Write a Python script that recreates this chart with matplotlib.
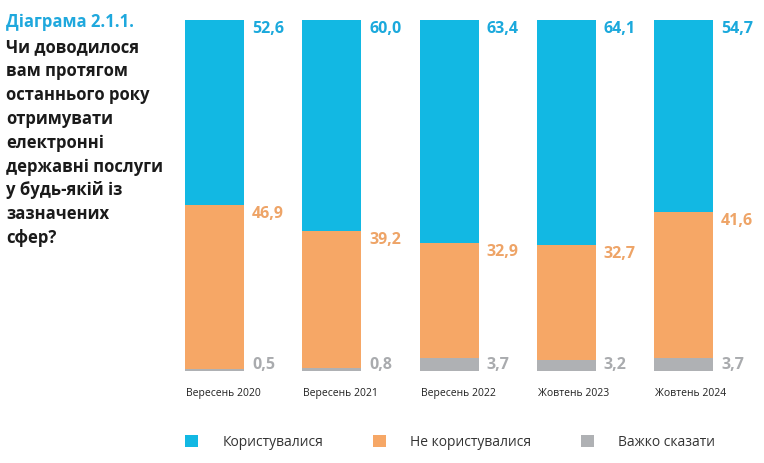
import matplotlib
matplotlib.use("Agg")
import matplotlib.pyplot as plt
import numpy as np

categories = ["Вересень 2020", "Вересень 2021", "Вересень 2022", "Жовтень 2023", "Жовтень 2024"]
used = [52.6, 60.0, 63.4, 64.1, 54.7]
not_used = [46.9, 39.2, 32.9, 32.7, 41.6]
hard = [0.5, 0.8, 3.7, 3.2, 3.7]
series_names = ["Користувалися", "Не користувалися", "Важко сказати"]
title_num = "Діаграма 2.1.1."
title_lines = ["Чи доводилося", "вам протягом", "останнього року", "отримувати",
               "електронні", "державні послуги", "у будь-якій із", "зазначених", "сфер?"]

BLUE = "#12b8e3"
ORANGE = "#f6a766"
GRAY = "#afb1b4"
BLUE_T = "#1ba9dc"
ORANGE_T = "#eea467"
GRAY_T = "#a9abae"

plt.rcParams['font.family'] = ['Open Sans', 'DejaVu Sans']

W, H = 764, 463
fig = plt.figure(figsize=(W / 100, H / 100), dpi=100)
ax = fig.add_axes([0, 0, 1, 1])
ax.axis('off')

step = 117.3
x0 = 214.5
ax.set_xlim(-x0 / step, (W - x0) / step)
ppu = (371 - 20) / 100.0
ax.set_ylim(-(H - 371) / ppu, 100 + 20 / ppu)

x = np.arange(len(categories))
w = 59 / step
hard_a = np.array(hard)
not_a = np.array(not_used)
used_a = np.array(used)
b1 = ax.bar(x, hard_a, w, color=GRAY, label=series_names[2])
b2 = ax.bar(x, not_a, w, bottom=hard_a, color=ORANGE, label=series_names[1])
b3 = ax.bar(x, used_a, w, bottom=hard_a + not_a, color=BLUE, label=series_names[0])

fmt = lambda v: f"{v:.1f}".replace(".", ",")
dx = 8 / step
for i in range(len(categories)):
    xr = x[i] + w / 2 + dx
    ax.text(xr, 100 - 0.4, fmt(used_a[i]), color=BLUE_T, fontsize=11.5, fontweight='bold',
            ha='left', va='top')
    ax.text(xr, hard_a[i] + not_a[i] - 0.4, fmt(not_a[i]), color=ORANGE_T, fontsize=11.5,
            fontweight='bold', ha='left', va='top')
    ax.text(xr, -0.6, fmt(hard_a[i]), color=GRAY_T, fontsize=11.5, fontweight='bold',
            ha='left', va='bottom')
    ax.text(x[i] - w / 2 + 1 / step, -6.3, categories[i], color="#222222", fontsize=7.5,
            ha='left', va='center')

fig.text(6 / W, 1 - 22 / H, title_num, color="#1fa8dd", fontsize=12, fontweight='bold',
         ha='left', va='center')
for k, line in enumerate(title_lines):
    fig.text(6 / W, 1 - (47 + 23.9 * k) / H, line, color="#1a1a1a", fontsize=12,
             fontweight='bold', ha='left', va='center')

leg = fig.legend(handles=[b3, b2, b1], labels=series_names, loc='center left',
                 bbox_to_anchor=(185 / W, 1 - 442 / H), ncol=3, frameon=False,
                 fontsize=10, handlelength=0.95, handleheight=0.95, handletextpad=1.75,
                 columnspacing=3.55, borderaxespad=0, borderpad=0)
for t in leg.get_texts():
    t.set_color("#333333")

fig.savefig("out.png", dpi=100)
